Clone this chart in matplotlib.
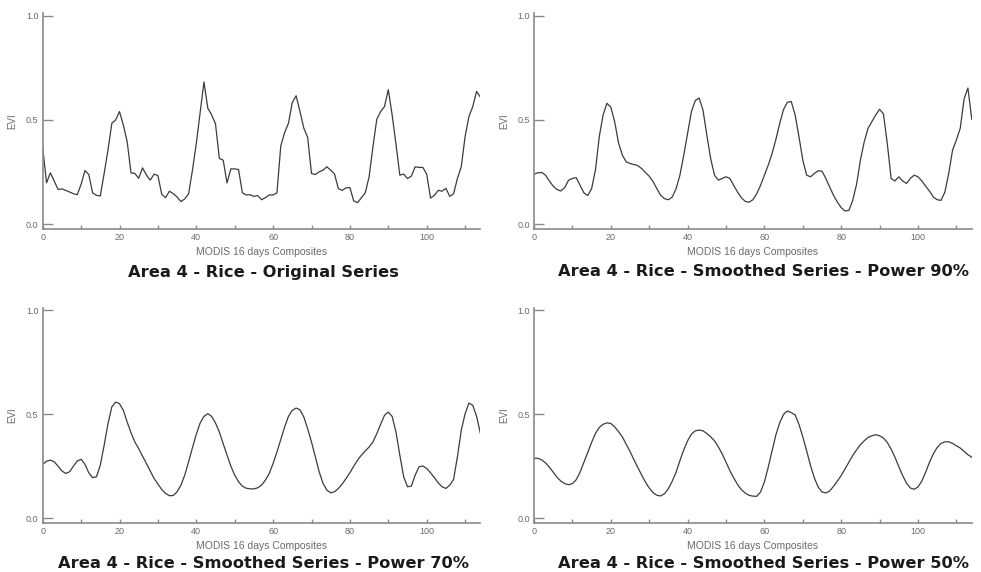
import matplotlib
matplotlib.use("Agg")
import matplotlib.pyplot as plt
import numpy as np
from matplotlib.ticker import MultipleLocator

composites = list(range(115))

original = [0.368, 0.198, 0.246, 0.207, 0.166, 0.169, 0.162, 0.154, 0.146, 0.141,
            0.191, 0.257, 0.238, 0.150, 0.138, 0.135, 0.243, 0.355, 0.484, 0.500,
            0.540, 0.476, 0.395, 0.246, 0.243, 0.220, 0.270, 0.236, 0.211, 0.240,
            0.233, 0.143, 0.127, 0.158, 0.146, 0.130, 0.108, 0.121, 0.146, 0.259,
            0.387, 0.535, 0.682, 0.556, 0.524, 0.481, 0.315, 0.307, 0.198, 0.265,
            0.265, 0.262, 0.150, 0.140, 0.141, 0.133, 0.137, 0.117, 0.127, 0.140,
            0.140, 0.150, 0.375, 0.439, 0.484, 0.584, 0.616, 0.540, 0.460, 0.416,
            0.243, 0.238, 0.251, 0.259, 0.275, 0.259, 0.240, 0.170, 0.162, 0.174,
            0.175, 0.111, 0.103, 0.127, 0.150, 0.227, 0.371, 0.503, 0.540, 0.564,
            0.645, 0.524, 0.384, 0.235, 0.240, 0.219, 0.230, 0.275, 0.272, 0.272,
            0.240, 0.125, 0.138, 0.162, 0.158, 0.172, 0.133, 0.146, 0.219, 0.275,
            0.420, 0.516, 0.564, 0.637, 0.609]

power90 = [0.240, 0.246, 0.248, 0.235, 0.207, 0.182, 0.166, 0.159, 0.175, 0.211,
           0.219, 0.223, 0.186, 0.150, 0.137, 0.170, 0.259, 0.420, 0.524, 0.580,
           0.561, 0.492, 0.391, 0.331, 0.299, 0.291, 0.286, 0.281, 0.267, 0.248,
           0.230, 0.204, 0.170, 0.138, 0.122, 0.117, 0.130, 0.170, 0.235, 0.331,
           0.436, 0.540, 0.593, 0.605, 0.548, 0.428, 0.315, 0.235, 0.211, 0.219,
           0.227, 0.219, 0.186, 0.154, 0.127, 0.109, 0.105, 0.117, 0.146, 0.186,
           0.235, 0.283, 0.339, 0.407, 0.484, 0.551, 0.585, 0.588, 0.524, 0.420,
           0.307, 0.235, 0.227, 0.243, 0.256, 0.254, 0.219, 0.178, 0.138, 0.106,
           0.079, 0.063, 0.066, 0.114, 0.191, 0.307, 0.395, 0.460, 0.492, 0.524,
           0.551, 0.529, 0.387, 0.219, 0.207, 0.227, 0.207, 0.195, 0.219, 0.235,
           0.227, 0.207, 0.182, 0.158, 0.130, 0.117, 0.114, 0.154, 0.243, 0.355,
           0.404, 0.460, 0.600, 0.653, 0.503]

power70 = [0.259, 0.275, 0.280, 0.272, 0.251, 0.228, 0.216, 0.224, 0.251, 0.276,
           0.284, 0.260, 0.219, 0.196, 0.200, 0.256, 0.351, 0.455, 0.535, 0.559,
           0.551, 0.519, 0.463, 0.411, 0.367, 0.335, 0.299, 0.264, 0.228, 0.192,
           0.165, 0.139, 0.120, 0.109, 0.110, 0.128, 0.160, 0.208, 0.272, 0.340,
           0.404, 0.458, 0.490, 0.503, 0.490, 0.458, 0.415, 0.359, 0.304, 0.251,
           0.208, 0.176, 0.155, 0.145, 0.142, 0.142, 0.147, 0.160, 0.184, 0.216,
           0.264, 0.319, 0.379, 0.439, 0.490, 0.519, 0.530, 0.522, 0.487, 0.431,
           0.367, 0.296, 0.224, 0.168, 0.136, 0.123, 0.128, 0.144, 0.165, 0.192,
           0.219, 0.251, 0.280, 0.304, 0.324, 0.343, 0.367, 0.407, 0.452, 0.495,
           0.511, 0.490, 0.415, 0.304, 0.200, 0.152, 0.155, 0.208, 0.248, 0.252,
           0.240, 0.219, 0.196, 0.171, 0.152, 0.144, 0.160, 0.187, 0.296, 0.423,
           0.503, 0.554, 0.543, 0.490, 0.407]

power50 = [0.289, 0.289, 0.281, 0.267, 0.246, 0.222, 0.198, 0.179, 0.167, 0.162,
           0.167, 0.186, 0.222, 0.270, 0.317, 0.365, 0.408, 0.437, 0.452, 0.459,
           0.456, 0.440, 0.417, 0.392, 0.357, 0.322, 0.283, 0.246, 0.210, 0.175,
           0.146, 0.124, 0.111, 0.108, 0.119, 0.143, 0.179, 0.222, 0.278, 0.329,
           0.373, 0.405, 0.421, 0.424, 0.421, 0.408, 0.392, 0.373, 0.344, 0.310,
           0.270, 0.230, 0.195, 0.163, 0.138, 0.122, 0.111, 0.107, 0.106, 0.127,
           0.175, 0.246, 0.325, 0.402, 0.460, 0.500, 0.516, 0.508, 0.497, 0.452,
           0.392, 0.325, 0.254, 0.195, 0.151, 0.127, 0.122, 0.132, 0.154, 0.179,
           0.206, 0.238, 0.270, 0.302, 0.329, 0.354, 0.373, 0.389, 0.397, 0.402,
           0.397, 0.386, 0.365, 0.333, 0.294, 0.249, 0.206, 0.170, 0.146, 0.140,
           0.151, 0.179, 0.222, 0.270, 0.310, 0.341, 0.360, 0.368, 0.368, 0.360,
           0.349, 0.338, 0.322, 0.306, 0.294]

titles = ["Area 4 - Rice - Original Series",
          "Area 4 - Rice - Smoothed Series - Power 90%",
          "Area 4 - Rice - Smoothed Series - Power 70%",
          "Area 4 - Rice - Smoothed Series - Power 50%"]
series = [original, power90, power70, power50]
x_label = "MODIS 16 days Composites"
y_label = "EVI"

W, H = 981, 572
fig = plt.figure(figsize=(W / 100, H / 100), dpi=100)
fig.patch.set_facecolor("white")

axis_color = "#8a8a8a"
text_color = "#6a6a6a"
line_color = "#3c3c3c"

# (left px, bottom-axis px from top, top px from top)
panels = [(42.7, 228.7, 13.0), (534.0, 228.7, 13.0),
          (42.7, 523.0, 307.5), (534.0, 523.0, 307.5)]
title_pos = [(263, 272), (764, 272), (263, 563), (764, 563)]
xlabel_y = [252, 252, 546, 546]
xpx_per_unit = 3.84

for i, (lx, by, ty) in enumerate(panels):
    width_px = 114 * xpx_per_unit
    ax = fig.add_axes([lx / W, 1 - by / H, width_px / W, (by - ty) / H])
    ax.plot(composites, series[i], color=line_color, lw=0.9)
    ax.set_xlim(0, 114)
    ax.set_ylim(-0.022, 1.013)
    for s in ["top", "right"]:
        ax.spines[s].set_visible(False)
    for s in ["left", "bottom"]:
        ax.spines[s].set_color(axis_color)
        ax.spines[s].set_linewidth(1.2)
    ax.set_yticks([0.0, 0.5, 1.0])
    ax.set_yticklabels(["0.0", "0.5", "1.0"])
    ax.xaxis.set_major_locator(MultipleLocator(20))
    ax.xaxis.set_minor_locator(MultipleLocator(10))
    ax.tick_params(axis="y", direction="in", length=7, width=1.0, color=axis_color,
                   labelsize=6.5, labelcolor=text_color, pad=3)
    ax.tick_params(axis="x", which="both", direction="in", length=3, width=1.0,
                   color=axis_color, labelsize=6.5, labelcolor=text_color, pad=3)
    for lab in ax.get_xticklabels() + ax.get_yticklabels():
        lab.set_fontfamily("Liberation Sans")
    ax.set_ylabel(y_label, fontsize=7, color=text_color, family="Liberation Sans", labelpad=6)
    cx = (lx + width_px / 2) / W
    fig.text(cx, 1 - xlabel_y[i] / H, x_label, ha="center", va="center",
             fontsize=7.5, color=text_color, family="Liberation Sans")
    tx, tyy = title_pos[i]
    fig.text(tx / W, 1 - tyy / H, titles[i], ha="center", va="center",
             fontsize=11.7, fontweight="bold", color="#1a1a1a", family="DejaVu Sans")

fig.savefig("out.png", dpi=100, facecolor="white")
